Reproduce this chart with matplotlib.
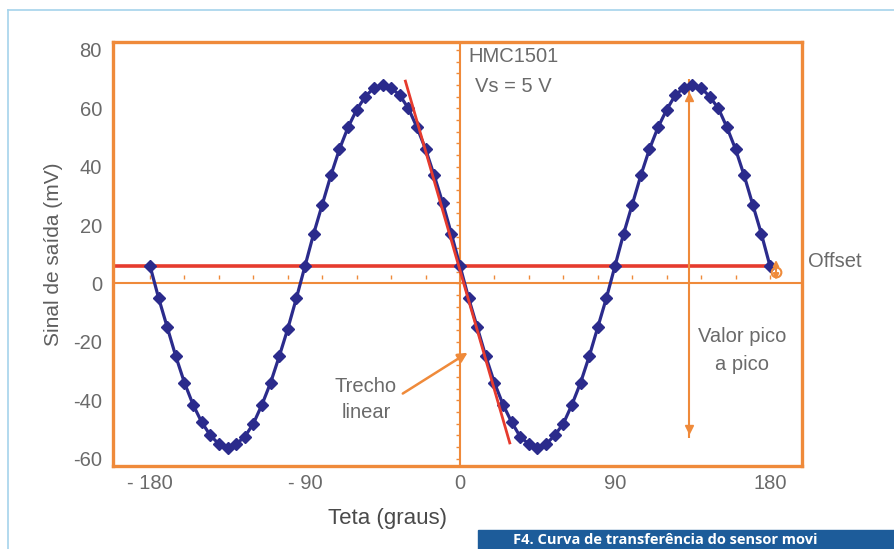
import numpy as np
import matplotlib
matplotlib.use('Agg')
import matplotlib.pyplot as plt
from matplotlib.lines import Line2D
from matplotlib.patches import Rectangle

plt.rcParams['font.family'] = ['Liberation Sans', 'DejaVu Sans']
plt.rcParams['axes.unicode_minus'] = False

# Curva de transferência do HMC1501
teta = np.arange(-180, 181, 5)
sinal = [6, -5, -15, -25, -34, -41.5, -47.5, -52, -55, -56.5,
         -55, -52.5, -48, -41.5, -34, -25, -15.5, -5, 6,
         17, 27, 37, 46, 53.5, 59.5, 64, 67, 68, 67,
         64.5, 60, 53.5, 46, 37, 27.5, 17, 6,
         -5, -15, -25, -34, -41.5, -47.5, -52.5, -55, -56.5, -55,
         -52, -48, -41.5, -34, -25, -15, -5, 6,
         17, 27, 37, 46, 53.5, 59.5, 64.5, 67, 68, 67,
         64, 60, 53.5, 46, 37, 27, 17, 6]
offset = 6
tangente_teta = [-31.7, 28.9]
tangente_sinal = [69.3, -54.6]
pico_teta = 133
pico_topo, pico_base = 70, -53
offset_teta = 183.5

x_ticks = [-180, -90, 0, 90, 180]
x_labels = ['- 180', '- 90', '0', '90', '180']
y_ticks = [-60, -40, -20, 0, 20, 40, 60, 80]

LARANJA = '#ef8a3a'
VERMELHO = '#e63b2e'
AZUL = '#2b2b8c'
CINZA = '#5e5e5e'

fig = plt.figure(figsize=(8.94, 5.49), dpi=100)
ax = fig.add_axes([0.1264, 0.1512, 0.7707, 0.7723])
ax.set_xlim(-201.5, 198.6)
ax.set_ylim(-62.5, 82.7)

for s in ax.spines.values():
    s.set_color(LARANJA)
    s.set_linewidth(2.4)

ax.set_xticks(x_ticks)
ax.set_xticklabels(x_labels)
ax.set_yticks(y_ticks)
ax.tick_params(length=0, labelsize=14.5, labelcolor='#6a6a6a')
ax.tick_params(axis='y', pad=8)
ax.tick_params(axis='x', pad=6)

ax.set_xlabel('Teta (graus)', fontsize=16, color='#4a4a4a')
ax.xaxis.set_label_coords(0.398, -0.1)
ax.set_ylabel('Sinal de saída (mV)', fontsize=15, color=CINZA, labelpad=7)

# eixos laranja e pequenas marcas
ax.axhline(0, color=LARANJA, lw=1.5, zorder=1)
ax.axvline(0, color=LARANJA, lw=1.5, zorder=1)
marcas_y = np.arange(-60, 81, 4)
ax.plot(np.zeros(len(marcas_y)), marcas_y, ls='none', marker=0, ms=3,
        mew=1, color=LARANJA, zorder=1)
marcas_x = np.arange(-180, 181, 20)
ax.plot(marcas_x, np.full(len(marcas_x), 2.3), ls='none', marker='|', ms=3,
        mew=1, color=LARANJA, zorder=1)

# linha de offset
ax.hlines(offset, -201.5, 180, color=VERMELHO, lw=2.6, zorder=2)

# valor pico a pico
ax.vlines(pico_teta, pico_base, pico_topo, color=LARANJA, lw=1.5, zorder=2)
ax.plot(pico_teta, 64, marker='^', ms=6, color=LARANJA, zorder=2)
ax.plot(pico_teta, -50, marker='v', ms=6, color=LARANJA, zorder=2)

# curva
ax.plot(teta, sinal, color=AZUL, lw=2.3, marker='D', ms=6.5, zorder=3)

# trecho linear
ax.plot(tangente_teta, tangente_sinal, color=VERMELHO, lw=2, zorder=4)
ax.annotate('', xy=(5.8, -23.2), xytext=(-34.6, -38.2),
            arrowprops=dict(arrowstyle='-|>', color=LARANJA, lw=1.8,
                            mutation_scale=14))

# offset
ax.annotate('', xy=(offset_teta, 9), xytext=(offset_teta, 0.3),
            arrowprops=dict(arrowstyle='<|-|>', color=LARANJA, lw=1.5,
                            mutation_scale=8),
            annotation_clip=False)
ax.plot(offset_teta, 4, marker='o', mfc='none', mec=LARANJA, mew=1.5, ms=7,
        clip_on=False, zorder=5)

txt = dict(fontsize=14.5, color='#6a6a6a')
ax.text(4.6, 77.9, 'HMC1501', ha='left', va='center', **txt)
ax.text(8.7, 67.3, 'Vs = 5 V', ha='left', va='center', **txt)
ax.text(202, 7.4, 'Offset', ha='left', va='center', **txt)
ax.text(164, -18.3, 'Valor pico', ha='center', va='center', **txt)
ax.text(164, -27.9, 'a pico', ha='center', va='center', **txt)
ax.text(-54.6, -35.4, 'Trecho', ha='center', va='center', **txt)
ax.text(-54.6, -44.3, 'linear', ha='center', va='center', **txt)

# moldura e legenda da figura
fig.add_artist(Line2D([8 / 894, 8 / 894], [0, 1 - 10 / 549],
                      transform=fig.transFigure, color='#a6d3eb', lw=1.2))
fig.add_artist(Line2D([8 / 894, 1], [1 - 10 / 549, 1 - 10 / 549],
                      transform=fig.transFigure, color='#a6d3eb', lw=1.2))
fig.add_artist(Rectangle((478 / 894, 0), 1 - 478 / 894, 19 / 549,
                         transform=fig.transFigure, color='#1d5c9a'))
fig.text(513 / 894, 5 / 549, 'F4. Curva de transferência do sensor movi',
         color='white', fontweight='bold', family=['Open Sans', 'DejaVu Sans'],
         fontsize=10.5, va='baseline', ha='left')

fig.savefig('out.png', dpi=100)
